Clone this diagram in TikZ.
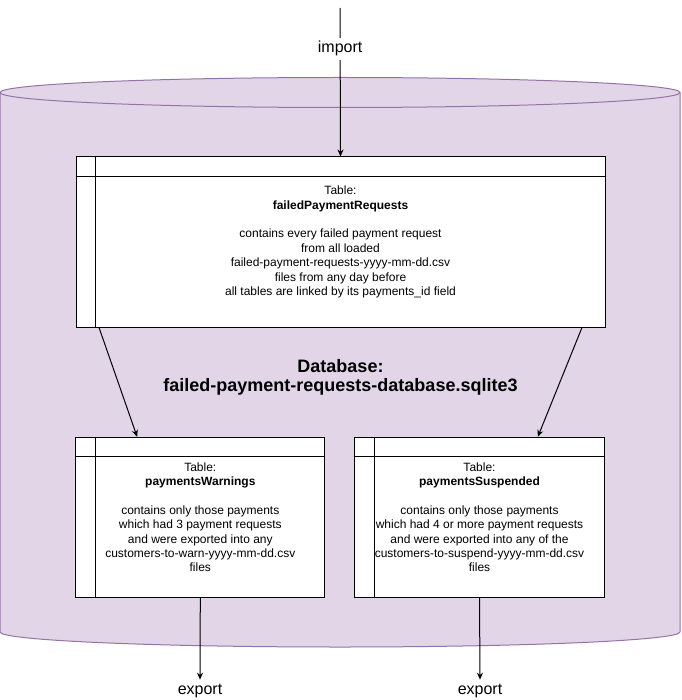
\documentclass[tikz,border=0pt]{standalone}
\usepackage{fontspec}
\setmainfont{Liberation Sans}
\usetikzlibrary{arrows.meta}
\definecolor{dbfill}{HTML}{E1D5E7}
\definecolor{dbdraw}{HTML}{9673A6}
\begin{document}
\begin{tikzpicture}[x=1pt,y=-1pt,line width=1pt,
    flow/.style={-{Stealth[length=7pt,width=6pt]}},
    dbtable/.style={draw,fill=white,inner sep=0pt,align=center,
        font=\fontsize{12}{14.4}\selectfont},
    io/.style={font=\fontsize{16}{19.2}\selectfont,inner sep=3.5pt},
    title/.style={font=\fontsize{18}{19}\selectfont\bfseries,align=center,inner sep=0pt}]
    \useasboundingbox (0,0) rectangle (681,700);
    \fill[white] (0,0) rectangle (681,700);

    % database cylinder
    \draw[dbdraw,fill=dbfill] (0,92.5) -- (0,632)
        arc[start angle=180,end angle=360,x radius=340pt,y radius=15pt]
        -- (680,92.5)
        arc[start angle=0,end angle=180,x radius=340pt,y radius=15pt] -- cycle;
    \draw[dbdraw] (0,92.5)
        arc[start angle=180,end angle=360,x radius=340pt,y radius=15pt];

    \node[title] (dbname) at (340.5,377.5) {Database:\\failed-payment-requests-database.sqlite3};

    % tables
    \node[dbtable,minimum width=529pt,minimum height=170pt] (failed) at (340.5,242)
        {Table:\\\textbf{failedPaymentRequests}\\[14.4pt]
         contains every failed payment request\\from all loaded\\
         failed-payment-requests-yyyy-mm-dd.csv\\files from any day before\\
         all tables are linked by its payments\_id field};
    \node[dbtable,minimum width=249.3pt,minimum height=159.7pt] (warnings) at (200.3,517.2)
        {Table:\\\textbf{paymentsWarnings}\\[14.4pt]
         contains only those payments\\which had 3 payment requests\\
         and were exported into any\\customers-to-warn-yyyy-mm-dd.csv\\files};
    \node[dbtable,minimum width=249.6pt,minimum height=159.7pt] (suspended) at (479.5,517.2)
        {Table:\\\textbf{paymentsSuspended}\\[14.4pt]
         contains only those payments\\which had 4 or more payment requests\\
         and were exported into any of the\\customers-to-suspend-yyyy-mm-dd.csv\\files};
    \foreach \t in {failed,warnings,suspended} {
        \draw ([yshift=-20pt]\t.north west) -- ([yshift=-20pt]\t.north east);
        \draw ([xshift=20pt]\t.north west) -- ([xshift=20pt]\t.south west);
    }

    % import / export
    \coordinate (source) at (340,8);
    \node[io] (exportW) [anchor=base] at (200,694) {export};
    \node[io] (exportS) [anchor=base] at (480,694) {export};

    \draw[flow] (source) -- node[io,pos=0.275,fill=white] (import) {import} (failed.north);
    \draw[flow] ([xshift=23.5pt]failed.south west) -- ([xshift=62pt]warnings.north west);
    \draw[flow] ([xshift=-23.5pt]failed.south east) -- ([xshift=-67pt]suspended.north east);
    \draw[flow] (warnings.south) -- (exportW.north);
    \draw[flow] (suspended.south) -- (exportS.north);
\end{tikzpicture}
\end{document}
